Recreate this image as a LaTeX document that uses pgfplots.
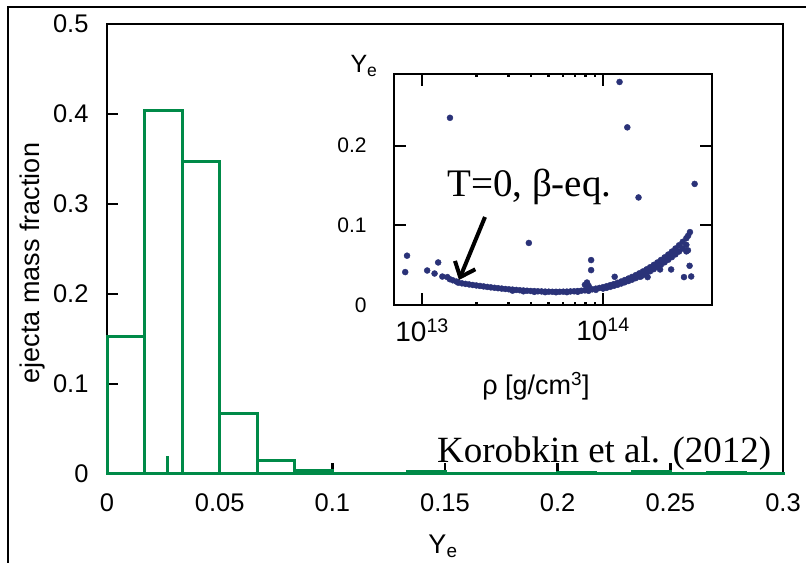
\documentclass[border=0pt]{standalone}
\usepackage{pgfplots}
\pgfplotsset{compat=1.18}
\usetikzlibrary{arrows.meta}
\usepackage{fontspec}
\setmainfont{Liberation Sans}
\newfontfamily\serifont{Liberation Serif}
\definecolor{hgreen}{RGB}{0,138,72}
\definecolor{dotblue}{RGB}{42,50,120}

\pgfplotstableread{
rho ye
1.585e13 0.0280
1.660e13 0.0272
1.738e13 0.0265
1.820e13 0.0258
1.905e13 0.0251
1.995e13 0.0245
2.089e13 0.0239
2.188e13 0.0233
2.291e13 0.0227
2.399e13 0.0221
2.512e13 0.0216
2.630e13 0.0211
2.754e13 0.0206
2.884e13 0.0201
3.020e13 0.0197
3.162e13 0.0193
3.311e13 0.0189
3.467e13 0.0185
3.631e13 0.0182
3.802e13 0.0179
3.981e13 0.0176
4.169e13 0.0174
4.365e13 0.0172
4.571e13 0.0170
4.786e13 0.0168
5.012e13 0.0167
5.248e13 0.0166
5.495e13 0.0166
5.754e13 0.0166
6.026e13 0.0167
6.310e13 0.0168
6.607e13 0.0170
6.918e13 0.0172
7.244e13 0.0175
7.586e13 0.0179
7.943e13 0.0184
8.318e13 0.0190
8.710e13 0.0197
9.120e13 0.0205
9.550e13 0.0214
1.000e14 0.0224
1.047e14 0.0236
1.096e14 0.0249
1.148e14 0.0263
1.202e14 0.0278
1.259e14 0.0295
1.318e14 0.0313
1.380e14 0.0332
1.445e14 0.0352
1.514e14 0.0374
1.585e14 0.0397
1.660e14 0.0421
1.738e14 0.0447
1.820e14 0.0474
1.905e14 0.0503
1.995e14 0.0533
2.089e14 0.0565
2.188e14 0.0598
2.291e14 0.0633
2.399e14 0.0670
2.512e14 0.0709
2.630e14 0.0750
2.754e14 0.0793
2.884e14 0.0838
2.951e14 0.0870
3.020e14 0.0915
3.162e13 0.0180
3.631e13 0.0172
4.169e13 0.0165
4.786e13 0.0161
5.495e13 0.0160
6.310e13 0.0161
7.244e13 0.0166
8.318e13 0.0178
9.120e13 0.0190
1.000e14 0.0206
1.047e14 0.0216
1.096e14 0.0228
1.148e14 0.0241
1.202e14 0.0254
1.259e14 0.0269
1.318e14 0.0285
1.380e14 0.0301
1.445e14 0.0318
1.514e14 0.0337
1.585e14 0.0356
1.660e14 0.0378
1.738e14 0.0400
1.820e14 0.0424
1.905e14 0.0450
1.995e14 0.0477
2.089e14 0.0506
2.188e14 0.0536
2.291e14 0.0568
2.399e14 0.0601
2.512e14 0.0636
2.630e14 0.0672
2.754e14 0.0710
2.884e14 0.0755
8.07e12 0.0413
8.26e12 0.0619
1.067e13 0.0433
1.172e13 0.0395
1.227e13 0.0534
1.294e13 0.0357
1.380e13 0.0350
1.422e13 0.0324
1.426e13 0.2350
1.479e13 0.0310
1.549e13 0.0294
3.89e13 0.0779
8.15e13 0.0282
7.94e13 0.0253
8.32e13 0.0240
8.59e13 0.0564
8.59e13 0.0438
1.159e14 0.0354
1.233e14 0.2800
1.361e14 0.2230
1.570e14 0.1350
1.618e14 0.0357
1.762e14 0.0350
2.065e14 0.0446
2.377e14 0.0446
2.799e14 0.0350
3.069e14 0.0358
3.006e14 0.0492
2.884e14 0.0673
2.944e14 0.0686
3.206e14 0.1520
}\yedata

\begin{document}
\begin{tikzpicture}[x=1bp,y=1bp]
\useasboundingbox (0,0) rectangle (806,563);
\draw[line width=2bp] (8,0) -- (8,556) -- (806,556);

\begin{axis}[
  at={(107bp,89bp)}, anchor=south west,
  scale only axis, width=676bp, height=450bp,
  xmin=0, xmax=0.3, ymin=0, ymax=0.5,
  xtick={0,0.05,0.1,0.15,0.2,0.25,0.3},
  ytick={0,0.1,0.2,0.3,0.4,0.5},
  xtick pos=bottom, ytick pos=left,
  tick align=inside, major tick length=11bp,
  axis line style={line width=2.8bp},
  every tick/.style={black, line width=2.4bp},
  /pgf/number format/fixed, /pgf/number format/precision=2,
  /pgf/number format/assume math mode=true,
  tick label style={font=\fontsize{25.5bp}{28bp}\selectfont},
  xticklabel style={yshift=-16bp},
  yticklabel style={xshift=-15bp},
  clip=false,
]
\addplot[ybar interval, draw=hgreen, line width=3bp, fill=none] coordinates {
(0,0.153) (0.016667,0.404) (0.033333,0.347) (0.05,0.067) (0.066667,0.015)
(0.083333,0.004) (0.1,0.001) (0.116667,0.001) (0.133333,0.003) (0.15,0.001)
(0.166667,0.001) (0.183333,0.001) (0.2,0.002) (0.216667,0.001) (0.233333,0.003)
(0.25,0.001) (0.266667,0.002) (0.283333,0.001) (0.3,0.001)};
\addplot[hgreen, line width=3bp] coordinates {(0.0268,0) (0.0268,0.020)};
\end{axis}

\begin{axis}[
  at={(394bp,258bp)}, anchor=south west,
  scale only axis, width=318bp, height=231bp,
  xmode=log, xmin=7e12, xmax=4e14, ymin=0, ymax=0.29,
  xtick={1e13,1e14},
  xticklabels={10\textsuperscript{13},10\textsuperscript{14}},
  ytick={0,0.1,0.2},
  minor x tick num=0, minor xtick={},
  tick align=inside, major tick length=12bp,
  axis line style={line width=2.3bp},
  every tick/.style={black, line width=2.2bp},
  axis background/.style={fill=white},
  /pgf/number format/fixed, /pgf/number format/precision=2,
  /pgf/number format/assume math mode=true,
  yticklabel style={font=\fontsize{21bp}{24bp}\selectfont, xshift=-24bp},
  xticklabel style={font=\fontsize{28bp}{30bp}\selectfont, yshift=-10bp},
]
\addplot[only marks, mark=*, mark size=3bp, color=dotblue] table[x=rho, y=ye] {\yedata};
\end{axis}

% labels
\node[rotate=90, font=\fontsize{27bp}{30bp}\selectfont] at (33,300) {ejecta mass fraction};
\node[anchor=base, font=\fontsize{27bp}{30bp}\selectfont] at (443,9) {Y\textsubscript{e}};
\node[font=\fontsize{25bp}{28bp}\selectfont] at (364,497) {Y\textsubscript{e}};
\node[anchor=base, font=\fontsize{27bp}{30bp}\selectfont] at (536,168) {ρ [g/cm\textsuperscript{3}]};
\node[anchor=base west, inner sep=0pt, font=\serifont\fontsize{39bp}{42bp}\selectfont] at (447,366) {T=0, β-eq.};
\node[anchor=base west, inner sep=0pt, font=\serifont\fontsize{37bp}{40bp}\selectfont] at (437,100) {Korobkin et al. (2012)};
\draw[line width=4bp, -{Straight Barb[length=13bp, width=22bp, line width=4bp]}] (485,346) -- (459,283);
\end{tikzpicture}
\end{document}
